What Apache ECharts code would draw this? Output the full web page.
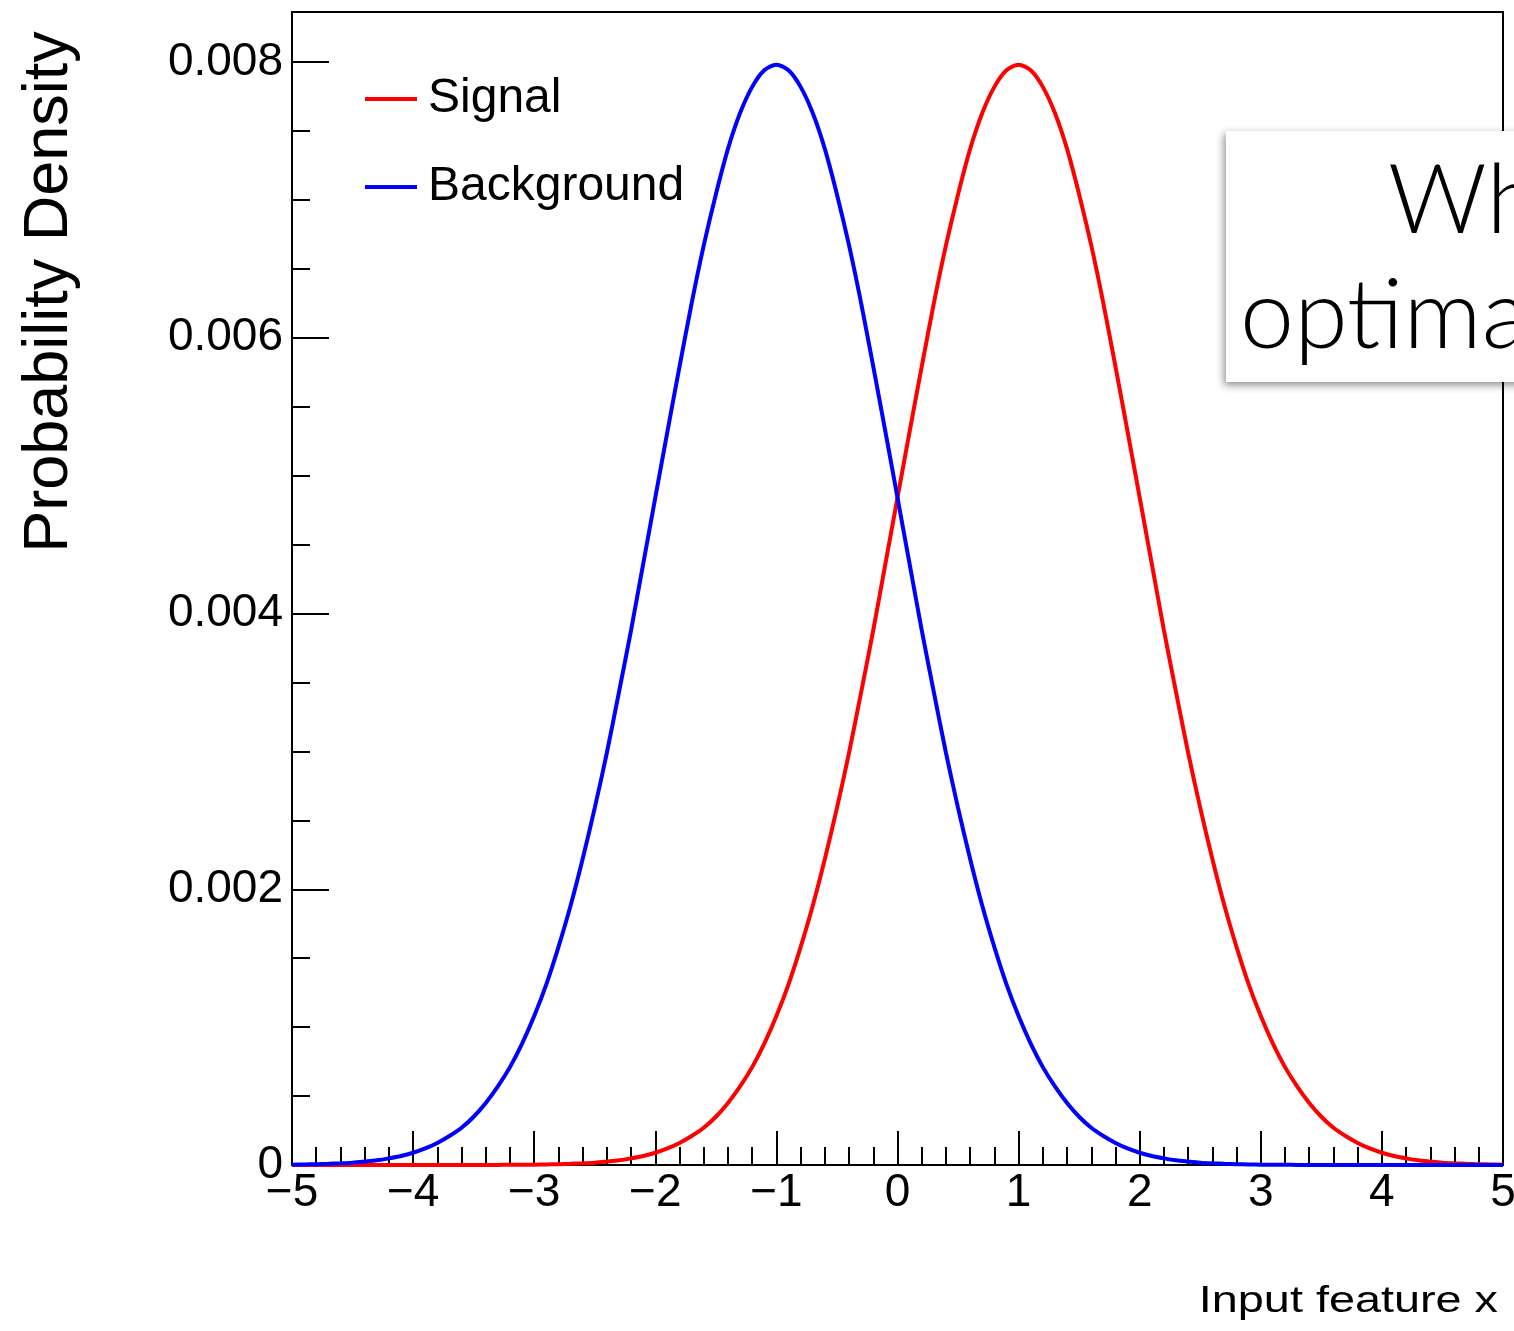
<!DOCTYPE html>
<html>
<head>
<meta charset="utf-8">
<script src="https://cdn.jsdelivr.net/npm/echarts@6/dist/echarts.min.js"></script>
<style>
html,body{margin:0;padding:0;background:#fff;overflow:hidden;}
#chart{width:1514px;height:1331px;}
</style>
</head>
<body>
<div id="chart"></div>
<script>
// x positions (bin centres)
const xValues = [
 -5.0,-4.9,-4.8,-4.7,-4.6,-4.5,-4.4,-4.3,-4.2,-4.1,
 -4.0,-3.9,-3.8,-3.7,-3.6,-3.5,-3.4,-3.3,-3.2,-3.1,
 -3.0,-2.9,-2.8,-2.7,-2.6,-2.5,-2.4,-2.3,-2.2,-2.1,
 -2.0,-1.9,-1.8,-1.7,-1.6,-1.5,-1.4,-1.3,-1.2,-1.1,
 -1.0,-0.9,-0.8,-0.7,-0.6,-0.5,-0.4,-0.3,-0.2,-0.1,
  0.0, 0.1, 0.2, 0.3, 0.4, 0.5, 0.6, 0.7, 0.8, 0.9,
  1.0, 1.1, 1.2, 1.3, 1.4, 1.5, 1.6, 1.7, 1.8, 1.9,
  2.0, 2.1, 2.2, 2.3, 2.4, 2.5, 2.6, 2.7, 2.8, 2.9,
  3.0, 3.1, 3.2, 3.3, 3.4, 3.5, 3.6, 3.7, 3.8, 3.9,
  4.0, 4.1, 4.2, 4.3, 4.4, 4.5, 4.6, 4.7, 4.8, 4.9,
  5.0
];

const signalValues = [
 0,0,0,0,0,0,0,0,0,0,
 0,0,0.0000001,0.0000001,0.0000002,0.0000003,0.0000005,0.0000008,0.0000012,0.0000018,
 0.0000027,0.0000040,0.0000058,0.0000085,0.000012,0.000017,0.000025,0.000034,0.000048,0.000065,
 0.000089,0.00012,0.00016,0.00021,0.00027,0.00035,0.00045,0.00057,0.00071,0.00088,
 0.00108,0.00131,0.00158,0.00188,0.00222,0.00259,0.00299,0.00343,0.00388,0.00436,
 0.00484,0.00532,0.00579,0.00625,0.00667,0.00704,0.00737,0.00763,0.00782,0.00794,
 0.00798,0.00794,0.00782,0.00763,0.00737,0.00704,0.00667,0.00625,0.00579,0.00532,
 0.00484,0.00436,0.00388,0.00343,0.00299,0.00259,0.00222,0.00188,0.00158,0.00131,
 0.00108,0.00088,0.00071,0.00057,0.00045,0.00035,0.00027,0.00021,0.00016,0.00012,
 0.000089,0.000065,0.000048,0.000034,0.000025,0.000017,0.000012,0.0000085,0.0000058,0.0000040,
 0.0000027
];

const backgroundValues = [
 0.0000027,0.0000040,0.0000058,0.0000085,0.000012,0.000017,0.000025,0.000034,0.000048,0.000065,
 0.000089,0.00012,0.00016,0.00021,0.00027,0.00035,0.00045,0.00057,0.00071,0.00088,
 0.00108,0.00131,0.00158,0.00188,0.00222,0.00259,0.00299,0.00343,0.00388,0.00436,
 0.00484,0.00532,0.00579,0.00625,0.00667,0.00704,0.00737,0.00763,0.00782,0.00794,
 0.00798,0.00794,0.00782,0.00763,0.00737,0.00704,0.00667,0.00625,0.00579,0.00532,
 0.00484,0.00436,0.00388,0.00343,0.00299,0.00259,0.00222,0.00188,0.00158,0.00131,
 0.00108,0.00088,0.00071,0.00057,0.00045,0.00035,0.00027,0.00021,0.00016,0.00012,
 0.000089,0.000065,0.000048,0.000034,0.000025,0.000017,0.000012,0.0000085,0.0000058,0.0000040,
 0.0000027,0.0000018,0.0000012,0.0000008,0.0000005,0.0000003,0.0000002,0.0000001,0.0000001,0,
 0,0,0,0,0,0,0,0,0,0,
 0
];

const xTickValues = [-5,-4,-3,-2,-1,0,1,2,3,4,5];
const xTickLabels = ['\u22125','\u22124','\u22123','\u22122','\u22121','0','1','2','3','4','5'];
const yTickValues = [0,0.002,0.004,0.006,0.008];
const yTickLabels = ['0','0.002','0.004','0.006','0.008'];

const seriesNames = ['Signal','Background'];
const xTitle = 'Input feature x';
const yTitle = 'Probability Density';
const overlayLines = ['Wh','optima'];

const yMax = 0.008363;
const FONT = '"Liberation Sans", Arial, Helvetica, sans-serif';

const chart = echarts.init(document.getElementById('chart'), null, {renderer:'canvas', width:1514, height:1331});

function pairs(vals){ return xValues.map((x,i)=>[x, vals[i]]); }

const option = {
  backgroundColor:'#fff',
  animation:false,
  grid:{left:292, right:11, top:12, bottom:166, outerBoundsMode:'none', containLabel:false,
        show:true, borderColor:'#000', borderWidth:2, backgroundColor:'transparent'},
  legend:{
    orient:'vertical', left:365, top:75, itemGap:40, padding:0,
    icon:'rect', itemWidth:52, itemHeight:4,
    data:seriesNames,
    selectedMode:false,
    textStyle:{fontFamily:FONT, fontSize:48, color:'#000', lineHeight:48, padding:[0,0,0,6]}
  },
  xAxis:{
    type:'value', min:-5, max:5, interval:1,
    axisLine:{show:true, onZero:false, lineStyle:{color:'#000', width:2}},
    axisTick:{show:true, inside:true, length:34, lineStyle:{color:'#000', width:2}},
    minorTick:{show:true, splitNumber:5, length:18, lineStyle:{color:'#000', width:2}},
    splitLine:{show:false},
    axisLabel:{
      fontFamily:FONT, fontSize:46, color:'#000', margin:5,
      formatter:function(v){ const k = xTickValues.findIndex(t=>Math.abs(t-v)<1e-9); return k>=0 ? xTickLabels[k] : ''; }
    }
  },
  yAxis:[{
    type:'value', min:0, max:yMax, interval:0.0005, position:'left',
    axisLine:{show:true, onZero:false, lineStyle:{color:'#000', width:2}},
    axisTick:{show:true, inside:true, length:18, lineStyle:{color:'#000', width:2}},
    splitLine:{show:false},
    axisLabel:{
      fontFamily:FONT, fontSize:46, color:'#000', margin:9, showMaxLabel:false,
      formatter:function(v){ const k = yTickValues.findIndex(t=>Math.abs(t-v)<1e-9); return k>=0 ? yTickLabels[k] : ''; }
    }
  },{
    type:'value', min:0, max:yMax, interval:0.002, position:'left', offset:0,
    axisLine:{show:false, onZero:false},
    axisTick:{show:true, inside:true, length:37, lineStyle:{color:'#000', width:2}},
    splitLine:{show:false},
    axisLabel:{show:false}
  }],
  series:[
    {name:seriesNames[0], type:'line', data:pairs(signalValues), yAxisIndex:0,
     showSymbol:false, symbol:'none', smooth:0.3, color:'#ff0000',
     lineStyle:{color:'#ff0000', width:4}, z:3},
    {name:seriesNames[1], type:'line', data:pairs(backgroundValues), yAxisIndex:0,
     showSymbol:false, symbol:'none', smooth:0.3, color:'#0000ff',
     lineStyle:{color:'#0000ff', width:4}, z:4}
  ],
  graphic:[
    {type:'text', x:50, y:292, rotation:Math.PI/2, z:50,
     style:{text:yTitle, fontFamily:FONT, fontSize:63, fill:'#000', align:'center', verticalAlign:'middle'}},
    {type:'text', x:1498, y:1302, scaleX:1.3, z:50,
     style:{text:xTitle, fontFamily:FONT, fontSize:36, fill:'#000', align:'right', verticalAlign:'middle'}},
    {type:'rect', shape:{x:1226, y:131, width:320, height:251}, z:100,
     style:{fill:'#fff', shadowBlur:8, shadowColor:'rgba(0,0,0,0.45)', shadowOffsetX:-2, shadowOffsetY:3}},
    {type:'text', x:1388, y:202, z:101,
     style:{text:overlayLines[0], fontFamily:'Lato, Roboto, "Open Sans", sans-serif', fontWeight:300, fontSize:97, fill:'#000', align:'left', verticalAlign:'middle'}},
    {type:'text', x:1240, y:317, z:101,
     style:{text:overlayLines[1], fontFamily:'Lato, Roboto, "Open Sans", sans-serif', fontWeight:300, fontSize:97, fill:'#000', align:'left', verticalAlign:'middle'}}
  ]
};
chart.setOption(option);
</script>
</body>
</html>
